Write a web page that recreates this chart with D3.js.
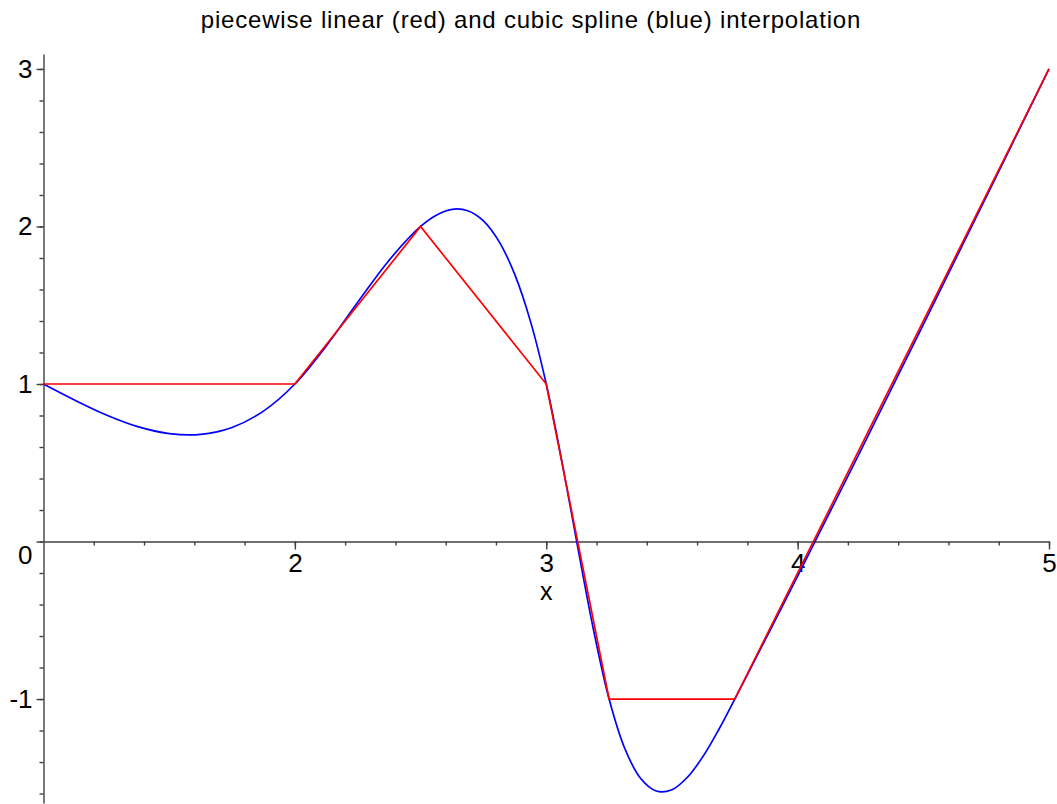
<!DOCTYPE html>
<html>
<head>
<meta charset="utf-8">
<script src="https://cdn.jsdelivr.net/npm/d3@7"></script>
<style>
  body { margin: 0; background: #fff; }
  svg { display: block; font-family: "Liberation Sans", Arial, sans-serif; }
</style>
</head>
<body>
<svg></svg>
<script>
'use strict'

const width = 1057
const height = 804

// data knots (red, piecewise linear)
const knotX = [1, 2, 2.5, 3, 3.25, 3.75, 5]
const knotY = [1, 1, 2, 1, -1, -1, 3]

// cubic spline curve (blue)
const splineX = [1, 1.125, 1.25, 1.375, 1.5, 1.625, 1.75, 1.875, 2,
    2.125, 2.25, 2.375, 2.5, 2.5625, 2.625, 2.6875, 2.75, 2.8125, 2.875, 2.9375, 3,
    3.0625, 3.125, 3.1875, 3.25, 3.3125, 3.375, 3.4375, 3.5, 3.5625, 3.625, 3.6875, 3.75,
    3.875, 4, 4.25, 4.5, 4.75, 5]
const splineY = [1, 0.897, 0.803, 0.729, 0.685, 0.68, 0.724, 0.828, 1,
    1.242, 1.519, 1.786, 2, 2.072, 2.109, 2.1, 2.036, 1.904, 1.694, 1.396, 1,
    0.506, -0.034, -0.557, -1, -1.314, -1.503, -1.584, -1.576, -1.495, -1.361, -1.19, -1,
    -0.612, -0.22, 0.574, 1.377, 2.187, 3]

const xMajor = [2, 3, 4, 5]
const yMajor = [-1, 0, 1, 2, 3]
const xMinor = d3.range(1.2, 5.001, 0.2)
const yMinor = d3.range(-1.6, 3.001, 0.2)

const title = 'piecewise linear (red) and cubic spline (blue) interpolation'

const svg = d3.select('svg').attr('width', width).attr('height', height)

const x = d3.scaleLinear().domain([1, 5]).range([43.5, 1049])
const y = d3.scaleLinear().domain([-1.66, 3.095]).range([803, 54])

const axisColor = '#404040'
const plain = d => String(d) // hyphen minus, like the original

// minor ticks
svg.append('g')
    .attr('transform', `translate(0,${y(0)})`)
    .call(d3.axisBottom(x).tickValues(xMinor).tickSize(4).tickSizeOuter(0).tickFormat(''))
    .call(g => g.select('.domain').remove())
svg.append('g')
    .attr('transform', `translate(${x(1)},0)`)
    .call(d3.axisLeft(y).tickValues(yMinor).tickSize(4).tickSizeOuter(0).tickFormat(''))
    .call(g => g.select('.domain').remove())

// major axes
const xAxis = svg.append('g')
    .attr('transform', `translate(0,${y(0)})`)
    .call(d3.axisBottom(x).tickValues(xMajor).tickSize(8).tickSizeOuter(0).tickPadding(4).tickFormat(plain))
const yAxis = svg.append('g')
    .attr('transform', `translate(${x(1)},0)`)
    .call(d3.axisLeft(y).tickValues(yMajor).tickSize(7).tickSizeOuter(0).tickPadding(4).tickFormat(plain))

yAxis.selectAll('.tick text').filter(d => d === 0).attr('dy', '0.84em')

svg.selectAll('.domain, .tick line').attr('stroke', axisColor).attr('stroke-width', 1.4)
svg.selectAll('.tick text').attr('fill', '#000').attr('font-size', 26)
    .attr('font-family', '"Liberation Sans", Arial, sans-serif')

// axis name
svg.append('text')
    .attr('x', x(3))
    .attr('y', y(0) + 58)
    .attr('text-anchor', 'middle')
    .attr('font-size', 25)
    .text('x')

// title
svg.append('text')
    .attr('x', 531)
    .attr('y', 28)
    .attr('text-anchor', 'middle')
    .attr('font-size', 24)
    .attr('letter-spacing', 0.8)
    .text(title)

const spline = d3.line()
    .x(d => x(d[0]))
    .y(d => y(d[1]))
    .curve(d3.curveCatmullRom.alpha(0.5))

const linear = d3.line()
    .x(d => x(d[0]))
    .y(d => y(d[1]))

svg.append('path')
    .datum(d3.zip(splineX, splineY))
    .attr('fill', 'none')
    .attr('stroke', '#0000ff')
    .attr('stroke-width', 1.7)
    .attr('d', spline)

svg.append('path')
    .datum(d3.zip(knotX, knotY))
    .attr('fill', 'none')
    .attr('stroke', '#ff0000')
    .attr('stroke-width', 1.7)
    .attr('d', linear)
</script>
</body>
</html>
